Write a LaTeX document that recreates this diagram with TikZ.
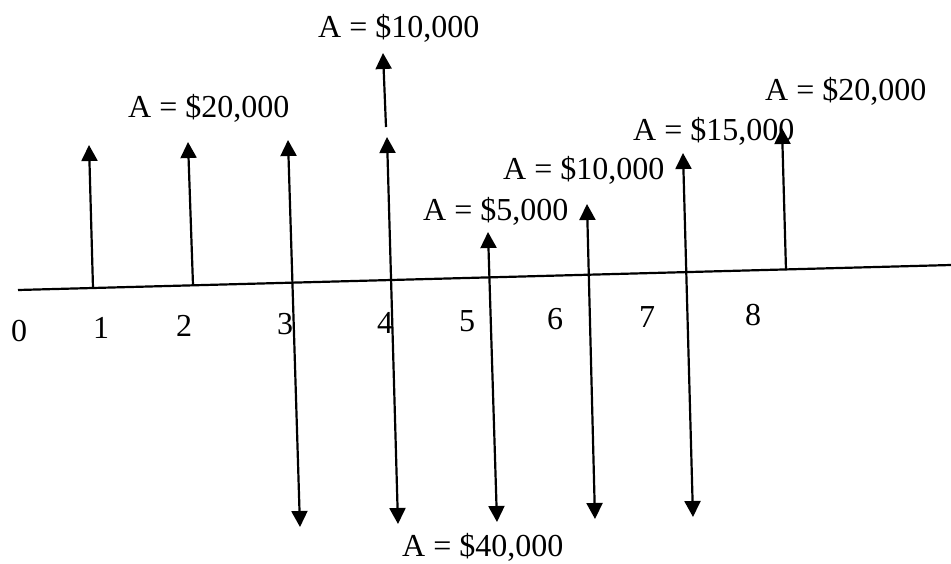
\documentclass[tikz,border=0pt]{standalone}
\usepackage{fontspec}
\setmainfont{Liberation Serif}
\usetikzlibrary{arrows.meta}
\begin{document}
\begin{tikzpicture}[x=1pt,y=-1pt,
  lbl/.style={anchor=base west,inner sep=0pt,font=\fontsize{32}{38}\selectfont},
  num/.style={anchor=base,inner sep=0pt,font=\fontsize{32}{38}\selectfont},
  flow/.style={line width=2.2pt,-{Triangle[width=16pt,length=16pt]}},
  both/.style={line width=2.2pt,{Triangle[width=16pt,length=16pt]}-{Triangle[width=16pt,length=16pt]}},
  axis/.style={line width=2.2pt}]
\useasboundingbox (0,0) rectangle (951,563);
% axis
\coordinate (ax0) at (18,290);
\coordinate (ax1) at (951,265);
\draw[axis] (ax0) -- (ax1);
% arrow end points
\coordinate (b1) at (93,288);   \coordinate (t1) at (89,145);
\coordinate (b2) at (193,285);  \coordinate (t2) at (188,142);
\coordinate (d3) at (300,527);  \coordinate (t3) at (288,140);
\coordinate (d4) at (398,524);  \coordinate (t4) at (387,137);
\coordinate (u4b) at (386,127); \coordinate (u4t) at (383,53);
\coordinate (d5) at (497,522);  \coordinate (t5) at (488,232);
\coordinate (d6) at (595,519);  \coordinate (t6) at (587,204);
\coordinate (d7) at (693,517);  \coordinate (t7) at (683,153);
\coordinate (b8) at (786,270);  \coordinate (t8) at (782,128);
\draw[flow] (b1) -- (t1);
\draw[flow] (b2) -- (t2);
\draw[both] (d3) -- (t3);
\draw[both] (d4) -- (t4);
\draw[flow] (u4b) -- (u4t);
\draw[both] (d5) -- (t5);
\draw[both] (d6) -- (t6);
\draw[both] (d7) -- (t7);
\draw[flow] (b8) -- (t8);
% amount labels
\node[lbl] (l1) at (128,117) {A = \$20,000};
\node[lbl] (l2) at (318,37) {A = \$10,000};
\node[lbl] (l3) at (423,220) {A = \$5,000};
\node[lbl] (l4) at (503,179) {A = \$10,000};
\node[lbl] (l5) at (633,140) {A = \$15,000};
\node[lbl] (l6) at (765,100) {A = \$20,000};
\node[lbl] (l7) at (402,556) {A = \$40,000};
% period numbers
\node[num] (n0) at (19,341) {0};
\node[num] (n1) at (101,338) {1};
\node[num] (n2) at (184,336) {2};
\node[num] (n3) at (285,334) {3};
\node[num] (n4) at (385,333) {4};
\node[num] (n5) at (467,331) {5};
\node[num] (n6) at (555,329) {6};
\node[num] (n7) at (647,327) {7};
\node[num] (n8) at (753,325) {8};
\end{tikzpicture}
\end{document}
